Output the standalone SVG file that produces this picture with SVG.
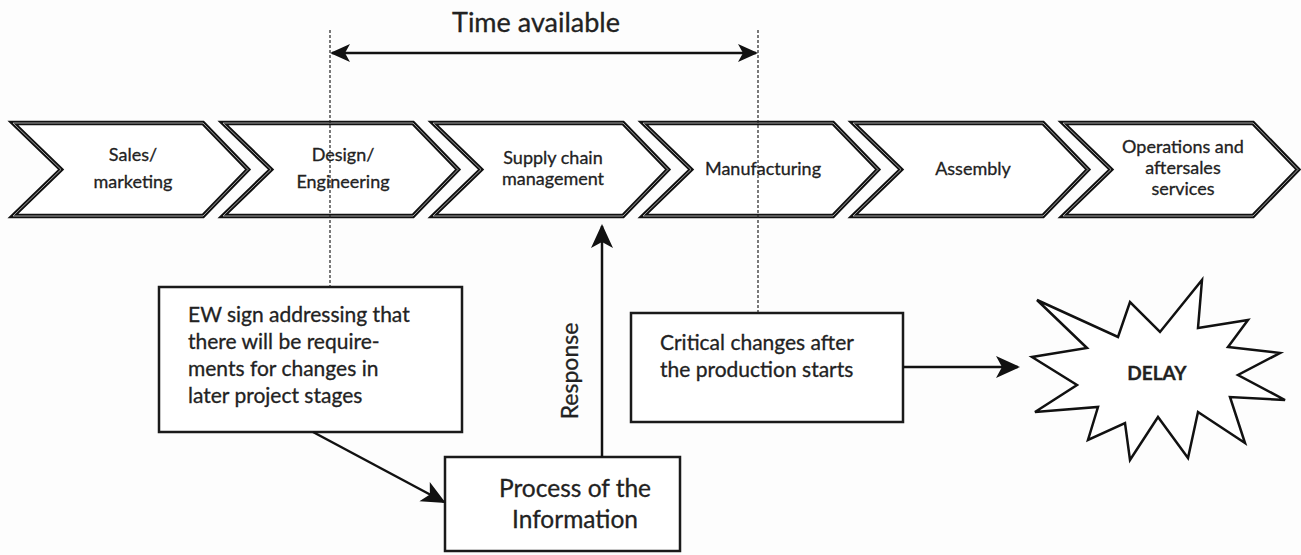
<svg xmlns="http://www.w3.org/2000/svg" xmlns:xlink="http://www.w3.org/1999/xlink" width="1301" height="555" viewBox="0 0 1301 555">
  <style>
    .bg { fill: #fdfdfd; }
    .chev { fill: #ffffff; stroke: #111; stroke-width: 4.5; stroke-linejoin: miter; }
    .chev-in { fill: none; stroke: #c8c8c8; stroke-width: 0.8; }
    .box { fill: #ffffff; stroke: #1a1a1a; stroke-width: 2.5; }
    .t { font-family: Lato, "Liberation Sans", sans-serif; fill: #222; stroke: #222; stroke-width: 0.3; }
    .stage { font-size: 18px; text-anchor: middle; }
    .note { font-size: 21px; }
    .big { font-size: 24.5px; }
    .wire { fill: none; stroke: #111; stroke-width: 2.5; }
    .guide { fill: none; stroke: #222; stroke-width: 1.2; stroke-dasharray: 3 2; }
  </style>
  <defs>
    <path id="chevron" d="M0,123 L190,123 L235,169.5 L190,216 L0,216 L48,169.5 Z"/>
    <marker id="head" viewBox="0 0 20 20" refX="18" refY="10" markerWidth="20" markerHeight="20" markerUnits="userSpaceOnUse" orient="auto-start-reverse">
      <path d="M0,1 L20,10 L0,19 L5,10 Z" fill="#111"/>
    </marker>
    <marker id="headL" viewBox="0 0 24 24" refX="22" refY="12" markerWidth="24" markerHeight="24" markerUnits="userSpaceOnUse" orient="auto">
      <path d="M0,1 L24,12 L0,23 L6,12 Z" fill="#111"/>
    </marker>
  </defs>

  <rect class="bg" x="0" y="0" width="1301" height="555"/>

  <!-- value chain stages -->
  <g id="stage-sales" transform="translate(13,0)">
    <use href="#chevron" class="chev"/><use href="#chevron" class="chev-in"/>
    <text class="t stage" x="120" y="161">Sales/</text>
    <text class="t stage" x="120" y="188">marketing</text>
  </g>
  <g id="stage-design" transform="translate(223,0)">
    <use href="#chevron" class="chev"/><use href="#chevron" class="chev-in"/>
    <text class="t stage" x="120" y="161">Design/</text>
    <text class="t stage" x="120" y="188">Engineering</text>
  </g>
  <g id="stage-scm" transform="translate(433,0)">
    <use href="#chevron" class="chev"/><use href="#chevron" class="chev-in"/>
    <text class="t stage" x="120" y="164">Supply chain</text>
    <text class="t stage" x="120" y="185">management</text>
  </g>
  <g id="stage-manufacturing" transform="translate(643,0)">
    <use href="#chevron" class="chev"/><use href="#chevron" class="chev-in"/>
    <text class="t stage" x="120" y="175">Manufacturing</text>
  </g>
  <g id="stage-assembly" transform="translate(853,0)">
    <use href="#chevron" class="chev"/><use href="#chevron" class="chev-in"/>
    <text class="t stage" x="120" y="175">Assembly</text>
  </g>
  <g id="stage-operations" transform="translate(1063,0)">
    <use href="#chevron" class="chev"/><use href="#chevron" class="chev-in"/>
    <text class="t stage" x="120" y="153">Operations and</text>
    <text class="t stage" x="120" y="174">aftersales</text>
    <text class="t stage" x="120" y="195">services</text>
  </g>

  <!-- time window -->
  <g id="time-available">
    <text class="t" x="536" y="32" text-anchor="middle" font-size="27">Time available</text>
  </g>

  <!-- notes -->
  <g id="ew-sign">
    <rect class="box" x="159" y="287" width="303" height="145"/>
    <text class="t note" x="188" y="322">EW sign addressing that</text>
    <text class="t note" x="188" y="349">there will be require-</text>
    <text class="t note" x="188" y="376">ments for changes in</text>
    <text class="t note" x="188" y="403">later project stages</text>
  </g>
  <g id="process-info">
    <rect class="box" x="445" y="457" width="235" height="94"/>
    <text class="t big" x="575" y="497" text-anchor="middle">Process of the</text>
    <text class="t big" x="575" y="528" text-anchor="middle">Information</text>
  </g>
  <g id="critical-changes">
    <rect class="box" x="631" y="313" width="272" height="109"/>
    <text class="t note" x="660" y="350">Critical changes after</text>
    <text class="t note" x="660" y="377">the production starts</text>
  </g>
  <g id="delay">
    <polygon fill="#ffffff" stroke="#111" stroke-width="2.5" stroke-linejoin="miter"
      points="1037,300 1118,337 1130,302 1160,332 1202,280 1198,328 1248,320 1228,347 1280,353 1238,375 1285,400 1230,397 1245,443 1198,412 1188,458 1158,417 1130,460 1125,423 1088,440 1098,407 1035,412 1077,385 1032,357 1087,348"/>
    <text class="t" x="1157" y="380" font-size="19" font-weight="bold" text-anchor="middle">DELAY</text>
  </g>

  <!-- connectors -->
  <g id="connectors">
    <line class="guide" x1="330" y1="30" x2="330" y2="287"/>
    <line class="guide" x1="758" y1="30" x2="758" y2="313"/>
    <line class="wire" x1="332" y1="53" x2="756" y2="53" marker-start="url(#head)" marker-end="url(#head)"/>
    <line class="wire" x1="313" y1="432" x2="444" y2="502" marker-end="url(#headL)"/>
    <line class="wire" x1="602" y1="457" x2="602" y2="226" marker-end="url(#headL)"/>
    <text class="t" transform="translate(578,371) rotate(-90)" text-anchor="middle" font-size="23">Response</text>
    <line class="wire" x1="903" y1="367" x2="1018" y2="367" marker-end="url(#headL)"/>
  </g>
</svg>
